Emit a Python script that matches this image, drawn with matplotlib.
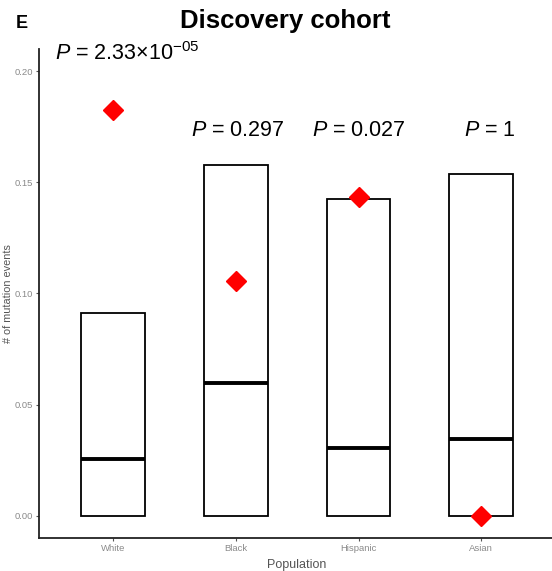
import numpy as np
import matplotlib.pyplot as plt

# values
populations = ['White', 'Black', 'Hispanic', 'Asian']
upper = [0.091, 0.158, 0.1425, 0.1537]
median = [0.0256, 0.0598, 0.0306, 0.0346]
observed = [0.1825, 0.1056, 0.1434, 0.0]
p_labels = [r'$\it{P}$ = 2.33×10$^{−05}$', r'$\it{P}$ = 0.297',
            r'$\it{P}$ = 0.027', r'$\it{P}$ = 1']

plt.rcParams['font.family'] = ['Liberation Sans', 'DejaVu Sans']
plt.rcParams['mathtext.fontset'] = 'custom'
plt.rcParams['mathtext.it'] = 'Liberation Sans:italic'
plt.rcParams['mathtext.rm'] = 'Liberation Sans'

fig = plt.figure(figsize=(5.52, 5.71), dpi=100)
ax = fig.add_axes([0.0707, 0.0578, 0.935, 0.8564])

x = np.arange(1, len(populations) + 1)
ax.bar(x, upper, width=0.52, bottom=0, fill=False, edgecolor='black', linewidth=1.3)
ax.hlines(median, x - 0.26, x + 0.26, color='black', linewidth=2.8)
ax.plot(x, observed, linestyle='none', marker='D', markersize=10, color='red')

ax.set_xlim(0.4, 4.6)
ax.set_ylim(-0.01, 0.21)
ax.set_xticks(x)
ax.set_xticklabels(populations)
ax.set_yticks([0.0, 0.05, 0.10, 0.15, 0.20])
ax.set_yticklabels(['0.00', '0.05', '0.10', '0.15', '0.20'])
ax.tick_params(labelsize=6.8, colors='#555555', length=2.5, width=0.8,
               labelcolor='#8a8a8a', pad=2)
ax.set_xlabel('Population', fontsize=9, color='#555555', labelpad=4)
ax.set_ylabel('# of mutation events', fontsize=7.8, color='#555555', labelpad=1)
for side in ['top', 'right']:
    ax.spines[side].set_visible(False)
for side in ['left', 'bottom']:
    ax.spines[side].set_linewidth(1.3)
    ax.spines[side].set_color('#222222')

# p-value annotations
fig.text(55 / 552, 1 - 54 / 571, p_labels[0], fontsize=15.5, va='center', ha='left')
fig.text(237.5 / 552, 1 - 130 / 571, p_labels[1], fontsize=15.5, va='center', ha='center')
fig.text(359 / 552, 1 - 130 / 571, p_labels[2], fontsize=15.5, va='center', ha='center')
fig.text(490 / 552, 1 - 130 / 571, p_labels[3], fontsize=15.5, va='center', ha='center')

fig.text(22 / 552, 1 - 24 / 571, 'E', fontsize=13, fontweight='bold', va='center', ha='center')
fig.text(285 / 552, 1 - 21 / 571, 'Discovery cohort', fontsize=18.5, fontweight='bold',
         va='center', ha='center')

plt.savefig('out.png', dpi=100)
